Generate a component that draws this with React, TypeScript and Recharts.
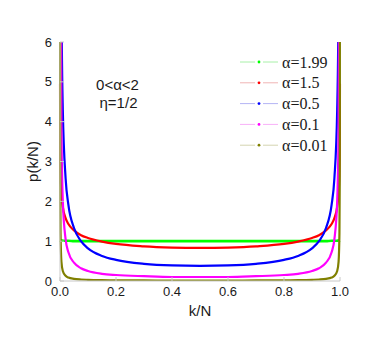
import { Legend, Line, LineChart, XAxis, YAxis } from "recharts";

// k/N sample positions (symmetric about 0.5)
const kN = [
  0.0002, 0.0005, 0.001, 0.002, 0.005, 0.01, 0.02, 0.03, 0.05, 0.075, 0.1, 0.15, 0.2, 0.3, 0.4,
  0.5,
  0.6, 0.7, 0.8, 0.85, 0.9, 0.925, 0.95, 0.97, 0.98, 0.99, 0.995, 0.998, 0.999, 0.9995, 0.9998,
];

const p199 = [
  1.03, 1.03, 1.02, 1.02, 1.02, 1.01, 1.01, 1.01, 1.0, 1.0, 1.0, 1.0, 1.0, 1.0, 1.0,
  1.0,
  1.0, 1.0, 1.0, 1.0, 1.0, 1.0, 1.0, 1.01, 1.01, 1.01, 1.02, 1.02, 1.02, 1.03, 1.03,
];
const p15 = [
  4.96, 3.95, 3.32, 2.79, 2.22, 1.87, 1.58, 1.43, 1.27, 1.15, 1.08, 0.99, 0.93, 0.87, 0.84,
  0.83,
  0.84, 0.87, 0.93, 0.99, 1.08, 1.15, 1.27, 1.43, 1.58, 1.87, 2.22, 2.79, 3.32, 3.95, 4.96,
];
const p05 = [
  80, 40, 24, 14.3, 7.2, 4.3, 2.58, 1.91, 1.33, 1.0, 0.82, 0.63, 0.53, 0.43, 0.39,
  0.38,
  0.39, 0.43, 0.53, 0.63, 0.82, 1.0, 1.33, 1.91, 2.58, 4.3, 7.2, 14.3, 24, 40, 80,
];
const p01 = [
  82, 34, 17.8, 9.2, 3.87, 2.01, 1.05, 0.72, 0.46, 0.32, 0.25, 0.18, 0.15, 0.12, 0.1,
  0.1,
  0.1, 0.12, 0.15, 0.18, 0.25, 0.32, 0.46, 0.72, 1.05, 2.01, 3.87, 9.2, 17.8, 34, 82,
];
const p001 = [
  12, 4.8, 2.42, 1.21, 0.49, 0.25, 0.13, 0.085, 0.053, 0.037, 0.03, 0.022, 0.018, 0.014, 0.012,
  0.012,
  0.012, 0.014, 0.018, 0.022, 0.03, 0.037, 0.053, 0.085, 0.13, 0.25, 0.49, 1.21, 2.42, 4.8, 12,
];

const xTicks = [0, 0.2, 0.4, 0.6, 0.8, 1.0];
const yTicks = [0, 1, 2, 3, 4, 5, 6];

const series = [
  { key: "a199", name: "α=1.99", color: "#00ff00", pale: "#a8f0a8", width: 2.6 },
  { key: "a15", name: "α=1.5", color: "#ff0000", pale: "#f0b4b4", width: 2.2 },
  { key: "a05", name: "α=0.5", color: "#0000ff", pale: "#b4b4f4", width: 2.2 },
  { key: "a01", name: "α=0.1", color: "#ff00ff", pale: "#f8b0f8", width: 2.2 },
  { key: "a001", name: "α=0.01", color: "#808000", pale: "#d4d4b0", width: 2.2 },
];

const data = kN.map((k, i) => ({
  k,
  a199: p199[i],
  a15: p15[i],
  a05: p05[i],
  a01: p01[i],
  a001: p001[i],
}));

const frame = "#c8c8c8";
const ink = "#1a1a1a";
const serif = "Liberation Serif, DejaVu Serif, serif";

// legend rows in series order, with a pale line and a dot marker
function LegendBox() {
  return (
    <svg width={120} height={108} style={{ display: "block" }}>
      {series.map((s, i) => {
        const cy = 10 + i * 20.8;
        return (
          <g key={s.key}>
            <line x1={2} x2={17} y1={cy} y2={cy} stroke={s.pale} strokeWidth={1} />
            <line x1={25} x2={40} y1={cy} y2={cy} stroke={s.pale} strokeWidth={1} />
            <circle cx={21} cy={cy} r={1.4} fill={s.color} />
            <text
              x={44}
              y={cy}
              dominantBaseline="central"
              fontFamily={serif}
              fontSize={16}
              fill={ink}
            >
              {s.name}
            </text>
          </g>
        );
      })}
    </svg>
  );
}

export default function App() {
  return (
    <div style={{ position: "absolute", left: 0, top: 0, background: "#fff" }}>
      <LineChart
        width={382}
        height={342}
        data={data}
        margin={{ top: 42, right: 42, bottom: 1, left: 0 }}
        style={{ fontFamily: "Liberation Sans, Arial, sans-serif" }}
      >
        <XAxis
          dataKey="k"
          type="number"
          domain={[0, 1]}
          ticks={xTicks}
          tickFormatter={(v: number) => v.toFixed(1)}
          height={60}
          stroke={frame}
          tickSize={-4}
          tickMargin={10}
          tick={{ fill: ink, fontSize: 13 }}
          label={{ value: "k/N", position: "center", fill: ink, fontSize: 15 }}
        />
        <XAxis
          xAxisId="top"
          orientation="top"
          dataKey="k"
          type="number"
          domain={[0, 1]}
          ticks={xTicks}
          tickFormatter={() => ""}
          height={0}
          stroke={frame}
          tickSize={-4}
        />
        <YAxis
          type="number"
          domain={[0, 6]}
          ticks={yTicks}
          allowDataOverflow
          width={60}
          stroke={frame}
          tickSize={-4}
          tickMargin={12}
          tick={{ fill: ink, fontSize: 13 }}
          label={{ value: "p(k/N)", angle: -90, position: "center", fill: ink, fontSize: 15, dx: 3 }}
        />
        <YAxis
          yAxisId="right"
          orientation="right"
          type="number"
          domain={[0, 6]}
          ticks={yTicks}
          width={0}
          stroke={frame}
          tickFormatter={() => ""}
          tickSize={-4}
        />
        <Legend
          layout="vertical"
          align="center"
          verticalAlign="middle"
          content={<LegendBox />}
          wrapperStyle={{ top: 52, left: 238, width: 120 }}
        />
        {series.map((s) => (
          <Line
            key={s.key}
            dataKey={s.key}
            name={s.name}
            type="monotone"
            stroke={s.color}
            strokeWidth={s.width}
            dot={false}
            isAnimationActive={false}
          />
        ))}
        <text x={117.5} y={84} textAnchor="middle" dominantBaseline="central" fontSize={15} fill={ink}>
          0&lt;α&lt;2
        </text>
        <text x={118.5} y={102} textAnchor="middle" dominantBaseline="central" fontSize={15} fill={ink}>
          η=1/2
        </text>
      </LineChart>
    </div>
  );
}
